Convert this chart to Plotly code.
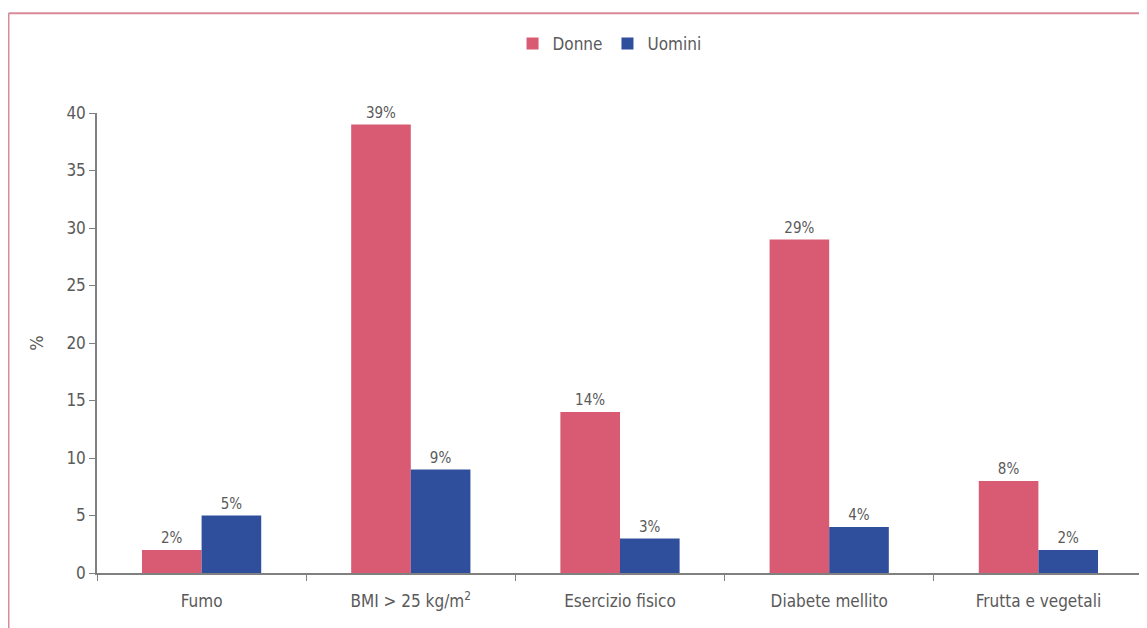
import plotly.graph_objects as go

categories = ["Fumo", "BMI > 25 kg/m<sup>2</sup>", "Esercizio fisico", "Diabete mellito", "Frutta e vegetali"]
donne = [2, 39, 14, 29, 8]
uomini = [5, 9, 3, 4, 2]
y_ticks = [0, 5, 10, 15, 20, 25, 30, 35, 40]

FONT = "Liberation Sans Narrow, DejaVu Sans Condensed, Arial Narrow, sans-serif"
GREY = "#5a5a5a"

fig = go.Figure()
fig.add_trace(go.Bar(
    name="Donne", x=categories, y=donne,
    marker=dict(color="#d95b73", line=dict(width=0)),
    text=[f"{v}%" for v in donne], textposition="outside",
    textfont=dict(family=FONT, size=15, color=GREY), cliponaxis=False,
))
fig.add_trace(go.Bar(
    name="Uomini", x=categories, y=uomini,
    marker=dict(color="#2f4e9b", line=dict(width=0)),
    text=[f"{v}%" for v in uomini], textposition="outside",
    textfont=dict(family=FONT, size=15, color=GREY), cliponaxis=False,
))

fig.update_layout(
    width=1139, height=620,
    margin=dict(l=89, r=4, t=105, b=55),
    paper_bgcolor="white", plot_bgcolor="white",
    barmode="group", bargap=0.43, bargroupgap=0,
    font=dict(family=FONT, size=16, color=GREY),
    showlegend=True,
    legend=dict(orientation="h", x=0.49, xanchor="center", y=1.15, yanchor="middle",
                font=dict(family=FONT, size=17, color=GREY), itemwidth=30,
                traceorder="normal"),
    xaxis=dict(showline=True, linecolor="#808080", linewidth=1.5,
               ticks="outside", ticklen=6, tickcolor="#808080", tickson="boundaries",
               ticklabelstandoff=12,
               tickfont=dict(family=FONT, size=17, color=GREY), showgrid=False),
    yaxis=dict(range=[0, 40], tickvals=y_ticks, showline=True, linecolor="#808080", linewidth=1.5,
               ticks="outside", ticklen=6, tickcolor="#808080",
               tickfont=dict(family=FONT, size=17, color=GREY), showgrid=False, zeroline=False,
               title=dict(text="%", font=dict(family=FONT, size=18, color=GREY), standoff=18)),
    shapes=[
        dict(type="line", xref="paper", yref="paper", x0=-0.0846, x1=1.01, y0=1.217, y1=1.217,
             line=dict(color="#d98a98", width=2)),
        dict(type="line", xref="paper", yref="paper", x0=-0.0846, x1=-0.0846, y0=1.217, y1=-0.2,
             line=dict(color="#d98a98", width=2)),
    ],
)

fig.write_html("out.html")
